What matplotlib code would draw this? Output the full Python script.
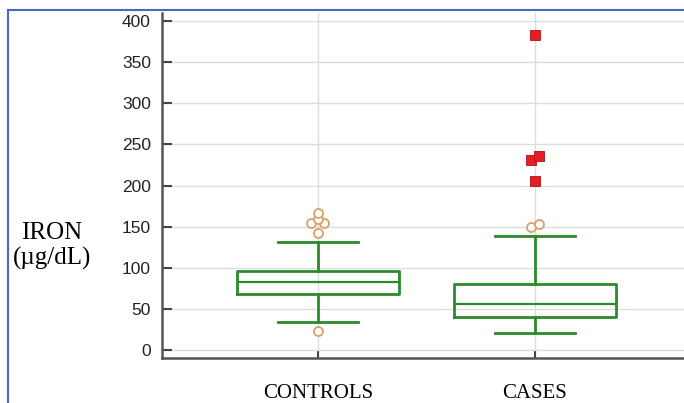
import matplotlib
matplotlib.use("Agg")
import matplotlib.pyplot as plt
from matplotlib.patches import Rectangle

categories = ["CONTROLS", "CASES"]
q1 = [67.6, 40.2]
median = [82.6, 55.3]
q3 = [96.3, 80.1]
whislo = [34.1, 20.0]
whishi = [131.3, 139.0]

# mild outliers (open circles): values and small horizontal offsets
ctrl_out = [22.4, 142.7, 154.0, 154.0, 159.0, 167.0]
ctrl_off = [0.0, 0.0, -0.03, 0.03, 0.0, 0.0]
case_out = [150.0, 153.3]
case_off = [-0.02, 0.02]
# extreme outliers (red squares), cases only
case_ext = [206.0, 231.3, 236.2, 383.8]
case_ext_off = [0.0, -0.02, 0.02, 0.0]

yticks = [0, 50, 100, 150, 200, 250, 300, 350, 400]

green = "#2b8a2b"
fig = plt.figure(figsize=(6.84, 4.03), dpi=100)
ax = fig.add_axes([0.2368, 0.1117, 0.7632, 0.8560])

positions = [1, 2]
stats = []
for i in range(2):
    stats.append(dict(med=median[i], q1=q1[i], q3=q3[i],
                      whislo=whislo[i], whishi=whishi[i], fliers=[]))
ax.bxp(stats, positions=positions, widths=0.746, showfliers=False,
       boxprops=dict(color=green, linewidth=2),
       medianprops=dict(color=green, linewidth=1.6),
       whiskerprops=dict(color=green, linewidth=2),
       capprops=dict(color=green, linewidth=2),
       capwidths=0.37, zorder=3)

circ = dict(marker="o", s=42, facecolors="white", edgecolors="#d9a06a",
            linewidths=1.3, zorder=4)
ax.scatter([positions[0] + o for o in ctrl_off], ctrl_out, **circ)
ax.scatter([positions[1] + o for o in case_off], case_out, **circ)
ax.scatter([positions[1] + o for o in case_ext_off], case_ext, marker="s",
           s=46, color="#e31e24", edgecolors="#b01015", linewidths=0.6, zorder=5)

ax.set_xlim(0.281, 2.687)
ax.set_ylim(-10, 410)
ax.set_yticks(yticks)
ax.set_xticks(positions)
ax.set_xticklabels(categories, fontfamily="Liberation Serif", fontsize=15)
ax.tick_params(axis="x", direction="in", length=6, width=1.5, pad=19,
               color="#444444")
ax.tick_params(axis="y", direction="in", length=7, width=1.5, pad=8,
               color="#444444", labelsize=12.5)
for lab in ax.get_yticklabels():
    lab.set_fontfamily("Liberation Sans")
    lab.set_color("#222222")

ax.grid(True, color="#dddddd", linewidth=1.0, zorder=0)
ax.set_axisbelow(True)
for s in ["top", "right"]:
    ax.spines[s].set_visible(False)
for s in ["left", "bottom"]:
    ax.spines[s].set_color("#555555")
    ax.spines[s].set_linewidth(1.8)

fig.text(52 / 684, 1 - 246 / 403, "IRON\n(\u00b5g/dL)", ha="center", va="center",
         fontfamily="Liberation Serif", fontsize=18, linespacing=1.15)

fig.patches.append(Rectangle((8 / 684, -0.1), 1.2, 1.1 - 10 / 403 + 0.0,
                             transform=fig.transFigure, fill=False,
                             edgecolor="#4a68c0", linewidth=1.5))

fig.savefig("out.png", dpi=100)
